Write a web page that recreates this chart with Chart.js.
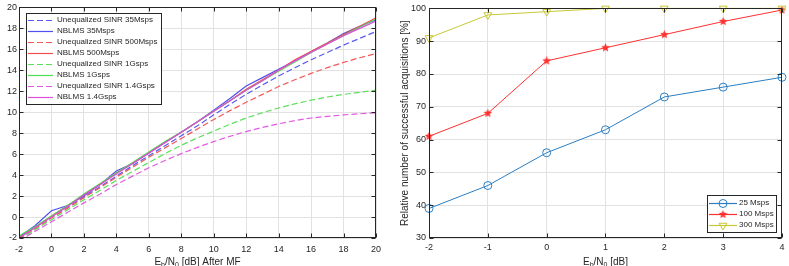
<!DOCTYPE html>
<html>
<head>
<meta charset="utf-8">
<script src="https://cdn.jsdelivr.net/npm/chart.js@4.4.1/dist/chart.umd.min.js"></script>
<style>
  html, body { margin: 0; padding: 0; background: #fff; }
  #wrap { position: relative; width: 789px; height: 266px; overflow: hidden; }
  canvas { position: absolute; top: 0; }
</style>
</head>
<body>
<div id="wrap">
  <canvas id="sinrChart" width="395" height="266" style="left:0"></canvas>
  <canvas id="acqChart" width="394" height="266" style="left:395px"></canvas>
</div>
<script>
// ---- left plot: SINR vs Eb/N0 after MF ----
const ebnoAfterMF = [-2, -1, 0, 1, 2, 3, 4, 5, 6, 7, 8, 9, 10, 11, 12, 13, 14, 15, 16, 17, 18, 19, 20];

const uneq35 = [-2.0, -1.0, -0.05, 0.95, 1.9, 2.9, 3.9, 4.9, 5.85, 6.8, 7.75, 8.7, 9.75, 10.75, 11.7, 12.6, 13.45, 14.25, 15.0, 15.7, 16.4, 17.05, 17.7];
const nblms35 = [-1.9, -0.8, 0.6, 1.1, 2.0, 3.1, 4.4, 5.1, 6.1, 7.1, 8.1, 9.1, 10.2, 11.3, 12.5, 13.3, 14.1, 14.9, 15.8, 16.6, 17.5, 18.2, 18.8];
const uneq500 = [-2.1, -1.1, -0.1, 0.85, 1.85, 2.8, 3.8, 4.75, 5.7, 6.6, 7.5, 8.4, 9.3, 10.15, 10.95, 11.7, 12.45, 13.1, 13.7, 14.25, 14.75, 15.2, 15.6];
const nblms500 = [-2.0, -1.0, 0.1, 1.1, 2.1, 3.1, 4.2, 5.1, 6.1, 7.1, 8.1, 9.1, 10.1, 11.1, 12.2, 13.1, 14.0, 15.0, 15.8, 16.6, 17.4, 18.2, 19.0];
const uneq1G = [-2.2, -1.2, -0.25, 0.7, 1.65, 2.55, 3.5, 4.35, 5.2, 6.05, 6.85, 7.55, 8.2, 8.85, 9.45, 9.95, 10.4, 10.8, 11.15, 11.45, 11.7, 11.9, 12.1];
const nblms1G = [-1.8, -0.9, 0.1, 1.1, 2.2, 3.2, 4.2, 5.2, 6.2, 7.2, 8.1, 9.1, 10.1, 11.1, 12.1, 13.0, 13.9, 14.8, 15.7, 16.5, 17.3, 18.1, 18.9];
const uneq14G = [-2.3, -1.35, -0.45, 0.45, 1.35, 2.2, 3.1, 3.9, 4.7, 5.4, 6.05, 6.65, 7.2, 7.7, 8.15, 8.55, 8.9, 9.2, 9.45, 9.6, 9.75, 9.85, 9.95];
const nblms14G = [-2.0, -1.0, 0.0, 1.0, 2.1, 3.1, 4.1, 5.1, 6.1, 7.1, 8.1, 9.1, 10.1, 11.1, 12.1, 13.0, 14.0, 14.9, 15.7, 16.5, 17.3, 18.0, 18.7];

const sinrLabels = [
  "Unequalized SINR 35Msps", "NBLMS 35Msps",
  "Unequalized SINR 500Msps", "NBLMS 500Msps",
  "Unequalized SINR 1Gsps", "NBLMS 1Gsps",
  "Unequalized SINR 1.4Gsps", "NBLMS 1.4Gsps"
];
const sinrValues = [uneq35, nblms35, uneq500, nblms500, uneq1G, nblms1G, uneq14G, nblms14G];
const sinrTicks = [-2, 0, 2, 4, 6, 8, 10, 12, 14, 16, 18, 20];

// ---- right plot: acquisitions vs Eb/N0 ----
const ebnoAcq = [-2, -1, 0, 1, 2, 3, 4];
const acq25 = [39, 46, 56, 63, 73, 76, 79];
const acq100 = [61, 68, 84, 88, 92, 96, 99.5];
const acq300 = [91, 98, 99, 100, 100, 100, 100];
const acqLabels = ["25 Msps", "100 Msps", "300 Msps"];

// styles
const sinrColors = ["#5a5af2", "#5050ee", "#f25a5a", "#f05050", "#5ce05c", "#52dc52", "#e45ae4", "#dc50dc"];
const axisColor = "#262626";
const gridColor = "#e2e2e2";
const fontFamily = "'Liberation Sans', Arial, Helvetica, sans-serif";

function starImage(color, size) {
  const c = document.createElement("canvas");
  c.width = size; c.height = size;
  const g = c.getContext("2d");
  const R = size / 2, r = R * 0.45;
  g.beginPath();
  for (let i = 0; i < 10; i++) {
    const a = -Math.PI / 2 + i * Math.PI / 5;
    const rad = i % 2 ? r : R;
    g.lineTo(R + rad * Math.cos(a), R + rad * Math.sin(a));
  }
  g.closePath();
  g.fillStyle = color;
  g.fill();
  return c;
}

// draws the matlab-like box, inner ticks, axis titles and the boxed legend
const framePlugin = {
  id: "frame",
  afterDraw(chart, args, opts) {
    const { ctx, chartArea: a, scales } = chart;
    const L = Math.round(a.left) + 0.5, T = Math.round(a.top) + 0.5;
    const R = Math.round(a.right) - 0.5, B = Math.round(a.bottom) - 0.5;
    ctx.save();
    ctx.strokeStyle = axisColor;
    ctx.lineWidth = 1;
    ctx.setLineDash([]);
    ctx.strokeRect(L, T, R - L, B - T);
    ctx.beginPath();
    scales.x.ticks.forEach(t => {
      const p = Math.round(scales.x.getPixelForValue(t.value)) + 0.5;
      ctx.moveTo(p, B); ctx.lineTo(p, B - 4);
      ctx.moveTo(p, T); ctx.lineTo(p, T + 4);
    });
    scales.y.ticks.forEach(t => {
      const p = Math.round(scales.y.getPixelForValue(t.value)) + 0.5;
      ctx.moveTo(L, p); ctx.lineTo(L + 4, p);
      ctx.moveTo(R, p); ctx.lineTo(R - 4, p);
    });
    ctx.stroke();

    // x title with subscripts
    ctx.fillStyle = axisColor;
    ctx.textBaseline = "middle";
    ctx.textAlign = "left";
    const big = "10px " + fontFamily, small = "7px " + fontFamily;
    let w = 0;
    opts.xTitle.forEach(p => { ctx.font = p[1] ? small : big; w += ctx.measureText(p[0]).width; });
    let x = (a.left + a.right) / 2 - w / 2;
    opts.xTitle.forEach(p => {
      ctx.font = p[1] ? small : big;
      ctx.fillText(p[0], x, opts.xTitleY + (p[1] ? 3.5 : 0));
      x += ctx.measureText(p[0]).width;
    });

    if (opts.yTitle) {
      ctx.save();
      ctx.translate(opts.yTitleX, (a.top + a.bottom) / 2);
      ctx.rotate(-Math.PI / 2);
      ctx.textAlign = "center";
      ctx.font = big;
      ctx.fillText(opts.yTitle, 0, 0);
      ctx.restore();
    }

    // legend
    const lg = opts.legend;
    ctx.fillStyle = "#fff";
    ctx.fillRect(lg.x, lg.y, lg.w, lg.h);
    ctx.strokeStyle = axisColor;
    ctx.strokeRect(lg.x + 0.5, lg.y + 0.5, lg.w, lg.h);
    chart.data.datasets.forEach((ds, i) => {
      const y = lg.firstRow + i * lg.rowH;
      ctx.strokeStyle = ds.borderColor;
      ctx.lineWidth = 1.2;
      ctx.setLineDash(ds.borderDash || []);
      ctx.beginPath();
      ctx.moveTo(lg.x0, Math.round(y) + 0.5);
      ctx.lineTo(lg.x1, Math.round(y) + 0.5);
      ctx.stroke();
      ctx.setLineDash([]);
      ctx.lineWidth = 1;
      if (ds.pointRadius) {
        ctx.fillStyle = "rgba(0,0,0,0)";
        Chart.helpers.drawPoint(ctx, {
          pointStyle: ds.pointStyle, rotation: ds.pointRotation || 0,
          radius: ds.pointRadius, borderWidth: 1
        }, (lg.x0 + lg.x1) / 2, Math.round(y) + 0.5);
      }
      ctx.fillStyle = axisColor;
      ctx.font = "8px " + fontFamily;
      ctx.fillText(ds.label, lg.textX, y);
    });
    ctx.restore();
  }
};

function tickFont() { return { family: fontFamily, size: 9 }; }

// ---- left chart ----
new Chart(document.getElementById("sinrChart"), {
  type: "line",
  data: {
    datasets: sinrValues.map((vals, i) => ({
      label: sinrLabels[i],
      data: ebnoAfterMF.map((x, j) => ({ x: x, y: vals[j] })),
      borderColor: sinrColors[i],
      borderDash: i % 2 === 0 ? [6, 3] : [],
      borderWidth: 1.2,
      pointRadius: 0,
      tension: 0,
      order: sinrValues.length - i
    }))
  },
  options: {
    responsive: false,
    animation: false,
    layout: { padding: { left: 0, top: 6, right: 19, bottom: 0 } },
    plugins: {
      legend: { display: false },
      tooltip: { enabled: false },
      frame: {
        xTitle: [["E", false], ["b", true], ["/N", false], ["0", true], [" [dB] After MF", false]],
        xTitleY: 262,
        legend: { x: 26, y: 13, w: 135, h: 91, firstRow: 20, rowH: 11, x0: 28, x1: 53, textX: 57 }
      }
    },
    scales: {
      x: {
        type: "linear", min: -2, max: 20,
        afterBuildTicks: s => { s.ticks = sinrTicks.map(v => ({ value: v })); },
        ticks: { color: axisColor, font: tickFont(), padding: 6, maxRotation: 0 },
        grid: { color: gridColor, drawTicks: false },
        border: { display: false },
        afterFit: s => { s.height = 28; }
      },
      y: {
        type: "linear", min: -2, max: 20,
        afterBuildTicks: s => { s.ticks = sinrTicks.map(v => ({ value: v })); },
        ticks: { color: axisColor, font: tickFont(), padding: 2 },
        grid: { color: gridColor, drawTicks: false },
        border: { display: false },
        afterFit: s => { s.width = 19; }
      }
    }
  },
  plugins: [framePlugin]
});

// ---- right chart ----
const acqColors = ["#2a7fc4", "#ff3030", "#c8c836"];
new Chart(document.getElementById("acqChart"), {
  type: "line",
  data: {
    datasets: [
      { label: acqLabels[0], data: ebnoAcq.map((x, j) => ({ x: x, y: acq25[j] })),
        borderColor: acqColors[0], pointBorderColor: acqColors[0], pointBackgroundColor: "rgba(0,0,0,0)",
        pointStyle: "circle", pointRadius: 4, order: 3 },
      { label: acqLabels[1], data: ebnoAcq.map((x, j) => ({ x: x, y: acq100[j] })),
        borderColor: acqColors[1], pointStyle: starImage(acqColors[1], 9), pointRadius: 4.5, order: 2 },
      { label: acqLabels[2], data: ebnoAcq.map((x, j) => ({ x: x, y: acq300[j] })),
        borderColor: acqColors[2], pointBorderColor: acqColors[2], pointBackgroundColor: "rgba(0,0,0,0)",
        pointStyle: "triangle", pointRotation: 180, rotation: 180, pointRadius: 4.5, order: 1 }
    ].map(d => Object.assign({ borderWidth: 1, pointBorderWidth: 1, tension: 0, clip: false }, d))
  },
  options: {
    responsive: false,
    animation: false,
    layout: { padding: { left: 0, top: 6, right: 6, bottom: 0 } },
    plugins: {
      legend: { display: false },
      tooltip: { enabled: false },
      frame: {
        xTitle: [["E", false], ["b", true], ["/N", false], ["0", true], [" [dB]", false]],
        xTitleY: 262,
        yTitle: "Relative number of successful acquisitions [%]",
        yTitleX: 10,
        legend: { x: 312, y: 195, w: 69, h: 37, firstRow: 202.5, rowH: 11.2, x0: 314, x1: 342, textX: 344 }
      }
    },
    scales: {
      x: {
        type: "linear", min: -2, max: 4,
        ticks: { stepSize: 1, color: axisColor, font: tickFont(), padding: 4.5, maxRotation: 0 },
        grid: { color: gridColor, drawTicks: false },
        border: { display: false },
        afterFit: s => { s.height = 28; }
      },
      y: {
        type: "linear", min: 30, max: 100,
        ticks: { stepSize: 10, color: axisColor, font: tickFont(), padding: 3 },
        grid: { color: gridColor, drawTicks: false },
        border: { display: false },
        afterFit: s => { s.width = 34; }
      }
    }
  },
  plugins: [framePlugin]
});
</script>
</body>
</html>
